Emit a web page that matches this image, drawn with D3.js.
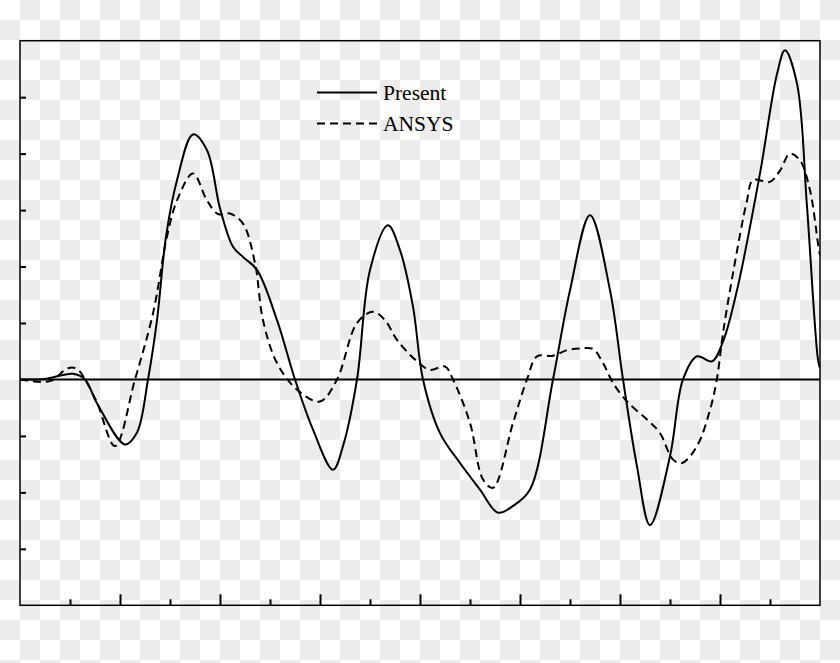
<!DOCTYPE html>
<html>
<head>
<meta charset="utf-8">
<script src="https://cdn.jsdelivr.net/npm/d3@7"></script>
<style>
  html, body { margin: 0; padding: 0; background: #ffffff; }
  svg { display: block; }
</style>
</head>
<body>
<svg id="chart" width="840" height="663"></svg>
<script>
// ---- Data ----
const presentX = [0, 0.25, 0.53, 0.65, 0.77, 1.05, 1.17, 1.28, 1.37, 1.46, 1.57, 1.73, 1.87, 2.0, 2.13, 2.23, 2.37, 2.57, 2.75, 2.93, 3.13, 3.23, 3.37, 3.5, 3.68, 3.8, 3.93, 4.03, 4.2, 4.4, 4.6, 4.78, 4.93, 5.1, 5.33, 5.5, 5.7, 5.9, 6.03, 6.17, 6.3, 6.5, 6.63, 6.77, 6.92, 7.03, 7.17, 7.4, 7.57, 7.65, 7.77, 7.87, 7.98, 8.0];
const presentY = [0, 0.01, 0.1, 0, -0.42, -1.15, -0.94, 0, 1.05, 2.53, 3.53, 4.34, 4.06, 3.03, 2.35, 2.17, 1.94, 1.05, 0, -0.89, -1.6, -1.18, 0, 1.94, 2.73, 2.29, 1.29, 0, -0.95, -1.48, -1.95, -2.36, -2.24, -1.95, 0, 1.58, 2.91, 1.58, 0, -1.54, -2.58, -1.36, 0, 0.41, 0.32, 0.67, 1.58, 3.65, 5.41, 5.83, 5.24, 3.06, 0.35, 0.2];

const ansysX = [0, 0.3, 0.48, 0.57, 0.65, 0.77, 0.95, 1.15, 1.33, 1.47, 1.57, 1.73, 1.87, 1.98, 2.1, 2.23, 2.35, 2.43, 2.57, 2.77, 3.0, 3.17, 3.37, 3.53, 3.65, 3.77, 3.97, 4.1, 4.25, 4.33, 4.5, 4.63, 4.73, 4.93, 5.07, 5.17, 5.33, 5.47, 5.6, 5.73, 5.83, 5.93, 6.07, 6.27, 6.4, 6.53, 6.62, 6.77, 6.9, 6.97, 7.03, 7.13, 7.27, 7.33, 7.5, 7.6, 7.7, 7.8, 7.9, 7.98, 8.0];
const ansysY = [0, -0.03, 0.2, 0.19, 0, -0.41, -1.18, 0, 1.17, 2.53, 3.17, 3.65, 3.17, 2.93, 2.94, 2.76, 2.06, 1.05, 0.29, -0.18, -0.39, 0, 1.0, 1.2, 1.05, 0.7, 0.32, 0.17, 0.23, 0, -0.77, -1.77, -1.92, -0.77, 0, 0.41, 0.42, 0.52, 0.55, 0.54, 0.29, -0.06, -0.39, -0.71, -0.95, -1.42, -1.48, -1.18, -0.54, 0.02, 0.82, 1.88, 3.17, 3.53, 3.5, 3.7, 4.0, 3.88, 3.35, 2.41, 2.2];

const xMajorTicks = [1, 2, 3, 4, 5, 6, 7];
const xMinorTicks = [0.5, 1.5, 2.5, 3.5, 4.5, 5.5, 6.5, 7.5];
const yTicks = [-3, -2, -1, 0, 1, 2, 3, 4, 5];
const seriesNames = ["Present", "ANSYS"];

(function () {
// ---- Layout ----
const W = 840, H = 663;
const mLeft = 20, mRight = 820, mTop = 40.7, mBottom = 605.3;
const svg = d3.select("#chart");

// transparent-style checkerboard background
const defs = svg.append("defs");
const pat = defs.append("pattern").attr("id", "checker")
  .attr("width", 40).attr("height", 40).attr("patternUnits", "userSpaceOnUse");
pat.append("rect").attr("width", 40).attr("height", 40).attr("fill", "#ffffff");
pat.append("rect").attr("x", 20).attr("y", 0).attr("width", 20).attr("height", 20).attr("fill", "#ececec");
pat.append("rect").attr("x", 0).attr("y", 20).attr("width", 20).attr("height", 20).attr("fill", "#ececec");
svg.append("rect").attr("width", W).attr("height", H).attr("fill", "url(#checker)");

const x = d3.scaleLinear().domain([0, 8]).range([mLeft, mRight]);
const y = d3.scaleLinear().domain([-4, 6]).range([mBottom, mTop]);

// axes (ticks inward)
const gxMaj = svg.append("g").attr("transform", `translate(0,${mBottom})`)
  .call(d3.axisBottom(x).tickValues(xMajorTicks).tickSize(-11).tickFormat(""));
const gxMin = svg.append("g").attr("transform", `translate(0,${mBottom})`)
  .call(d3.axisBottom(x).tickValues(xMinorTicks).tickSize(-6).tickFormat(""));
const gy = svg.append("g").attr("transform", `translate(${mLeft},0)`)
  .call(d3.axisLeft(y).tickValues(yTicks).tickSize(-6).tickFormat(""));
[gxMaj, gxMin, gy].forEach(g => {
  g.select(".domain").remove();
  g.selectAll(".tick line").attr("stroke", "#000").attr("stroke-width", 2);
});

// frame
svg.append("rect")
  .attr("x", mLeft).attr("y", mTop)
  .attr("width", mRight - mLeft).attr("height", mBottom - mTop)
  .attr("fill", "none").attr("stroke", "#000").attr("stroke-width", 1.5);

// zero line
svg.append("line")
  .attr("x1", x(0)).attr("x2", x(8)).attr("y1", y(0)).attr("y2", y(0))
  .attr("stroke", "#000").attr("stroke-width", 2);

// curves
const line = d3.line()
  .x(d => x(d[0])).y(d => y(d[1]))
  .curve(d3.curveCatmullRom.alpha(0.5));

const clip = defs.append("clipPath").attr("id", "plotclip");
clip.append("rect").attr("x", mLeft).attr("y", mTop).attr("width", mRight - mLeft).attr("height", mBottom - mTop);

const plot = svg.append("g").attr("clip-path", "url(#plotclip)");
plot.append("path")
  .datum(presentX.map((v, i) => [v, presentY[i]]))
  .attr("d", line).attr("fill", "none")
  .attr("stroke", "#000").attr("stroke-width", 2);
plot.append("path")
  .datum(ansysX.map((v, i) => [v, ansysY[i]]))
  .attr("d", line).attr("fill", "none")
  .attr("stroke", "#000").attr("stroke-width", 2)
  .attr("stroke-dasharray", "8,5");

// legend
const legend = svg.append("g");
const legY = [92.5, 123.5];
seriesNames.forEach((name, i) => {
  legend.append("line")
    .attr("x1", 317).attr("x2", 377).attr("y1", legY[i]).attr("y2", legY[i])
    .attr("stroke", "#000").attr("stroke-width", 2)
    .attr("stroke-dasharray", i === 1 ? "8,5" : null);
  legend.append("text")
    .attr("x", 383).attr("y", legY[i] + 7.5)
    .attr("font-family", "'Liberation Serif', 'Times New Roman', serif")
    .attr("font-size", 21.5)
    .attr("fill", "#000")
    .text(name);
});
})();
</script>
</body>
</html>
